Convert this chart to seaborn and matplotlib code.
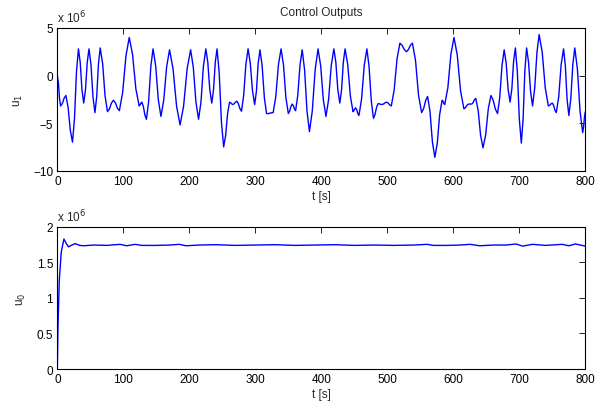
import matplotlib
matplotlib.use("Agg")
import matplotlib.pyplot as plt
import seaborn as sns

# u_1 (x 1e6): peaks and troughs
t1 = [0, 5, 13, 23, 32, 40, 48, 57, 65, 76, 85, 94, 109, 124, 128, 135, 145, 157, 170, 186,
      202, 214, 225, 234, 242, 252, 261, 266, 272, 279, 289, 299, 307, 317, 327, 339, 350, 356,
      361, 371, 382, 395, 407, 419, 428, 436, 448, 452, 457, 469, 479, 486, 492, 499, 506, 519,
      529, 538, 552, 561, 572, 583, 587, 601, 616, 623, 628, 634, 645, 657, 667, 677, 686, 694,
      703, 711, 720, 730, 744, 750, 756, 767, 775, 784, 796, 800]
u1 = [0, -3.2, -2.1, -7.0, 2.8, -2.9, 2.8, -3.9, 2.9, -3.8, -2.6, -3.7, 4.0, -3.2, -2.8, -4.6,
      2.8, -4.3, 2.7, -5.2, 2.7, -4.6, 2.8, -2.9, 2.8, -7.5, -2.8, -3.05, -2.7, -3.75, 2.8,
      -3.05, 2.7, -4.0, -3.9, 2.8, -4.0, -3.0, -3.7, 2.7, -5.9, 2.8, -4.3, 2.8, -2.9, 2.8, -3.8,
      -3.4, -4.2, 2.8, -4.5, -2.95, -3.05, -2.8, -3.2, 3.4, 2.5, 3.4, -3.9, -2.2, -8.6, -2.6,
      -3.05, 4.0, -3.5, -3.0, -3.0, -2.4, -7.6, -2.1, -4.0, 2.7, -2.8, 2.9, -7.1, 2.9, -3.2,
      4.3, -3.2, -2.9, -3.9, 2.8, -4.2, 2.9, -6.0, -3.8]

# u_1 points on the flanks between the peaks
t1_mid = [1.7, 3.3, 7.7, 10.3, 16.3, 19.7, 26, 29, 34.7, 37.3,
          42.7, 45.3, 51, 54, 59.7, 62.3, 68.7, 72.3, 79, 82,
          88, 91, 99, 104, 114, 119, 125.3, 126.7, 130.3, 132.7,
          138.3, 141.7, 149, 153, 161.3, 165.7, 175.3, 180.7, 191.3, 196.7,
          206, 210, 217.7, 221.3, 228, 231, 236.7, 239.3, 245.3, 248.7,
          255, 258, 262.7, 264.3, 268, 270, 274.3, 276.7, 282.3, 285.7,
          292.3, 295.7, 301.7, 304.3, 310.3, 313.7, 320.3, 323.7, 331, 335,
          342.7, 346.3, 352, 354, 357.7, 359.3, 364.3, 367.7, 374.7, 378.3,
          386.3, 390.7, 399, 403, 411, 415, 422, 425, 430.7, 433.3,
          440, 444, 449.3, 450.7, 453.7, 455.3, 461, 465, 472.3, 475.7,
          481.3, 483.7, 488, 490, 494.3, 496.7, 501.3, 503.7, 510.3, 514.7,
          522.3, 525.7, 532, 535, 542.7, 547.3, 555, 558, 564.7, 568.3,
          575.7, 579.3, 584.3, 585.7, 591.7, 596.3, 606, 611, 618.3, 620.7,
          630, 632, 637.7, 641.3, 649, 653, 660.3, 663.7, 670.3, 673.7,
          680, 683, 688.7, 691.3, 697, 700, 705.7, 708.3, 714, 717,
          723.3, 726.7, 734.7, 739.3, 746, 748, 752, 754, 759.7, 763.3,
          769.7, 772.3, 778, 781, 788, 792, 797.3, 798.7]
u1_mid = [-0.8, -2.4, -2.93, -2.38, -3.33, -5.78, -4.55, 0.35, 1.38, -1.48,
          -1.48, 1.38, 1.13, -2.23, -2.2, 1.2, 1.23, -2.13, -3.5, -2.9,
          -2.88, -3.43, -1.78, 2.08, 2.2, -1.4, -3.1, -2.9, -3.25, -4.15,
          -2.75, 0.95, 1.03, -2.53, -2.55, 0.95, 0.73, -3.23, -3.23, 0.73,
          0.88, -2.78, -2.75, 0.95, 1.38, -1.48, -1.48, 1.38, 0.23, -4.93,
          -6.33, -3.98, -2.86, -2.99, -2.96, -2.79, -2.96, -3.49, -2.11, 1.16,
          1.34, -1.59, -1.61, 1.26, 1.03, -2.33, -4.0, -3.92, -2.23, 1.13,
          1.1, -2.3, -3.75, -3.25, -3.18, -3.53, -2.1, 1.1, 0.55, -3.75,
          -3.73, 0.63, 1.03, -2.53, -2.53, 1.03, 1.38, -1.48, -1.48, 1.38,
          1.15, -2.15, -3.7, -3.5, -3.6, -4.0, -2.45, 1.05, 0.98, -2.68,
          -4.11, -3.34, -2.98, -3.03, -2.99, -2.86, -2.9, -3.1, -1.55, 1.75,
          3.18, 2.73, 2.73, 3.18, 1.58, -2.08, -3.48, -2.63, -3.8, -7.0,
          -7.1, -4.1, -2.71, -2.94, -1.29, 2.24, 2.13, -1.63, -3.38, -3.13,
          -2.85, -2.55, -3.7, -6.3, -6.23, -3.48, -2.58, -3.53, -2.33, 1.03,
          1.33, -1.43, -1.38, 1.48, 0.4, -4.6, -4.6, 0.4, 1.38, -1.68,
          -1.33, 2.43, 2.43, -1.33, -3.13, -2.98, -3.15, -3.65, -2.23, 1.13,
          1.05, -2.45, -2.43, 1.13, 0.68, -3.78, -5.45, -4.35]

# u_0 (x 1e6)
t0 = [0, 1, 3, 6, 10, 14, 17, 21, 27, 34, 40, 55, 75, 95, 105, 118, 128, 150, 170, 185,
      195, 215, 240, 270, 300, 330, 360, 390, 420, 450, 480, 510, 540, 560, 570, 590, 610,
      625, 640, 660, 680, 695, 705, 720, 740, 765, 775, 785, 800]
u0 = [0, 0.6, 1.25, 1.65, 1.83, 1.76, 1.72, 1.74, 1.765, 1.74, 1.735, 1.745, 1.74, 1.755,
      1.735, 1.755, 1.74, 1.74, 1.745, 1.755, 1.735, 1.745, 1.75, 1.74, 1.745, 1.75, 1.74,
      1.745, 1.75, 1.74, 1.745, 1.74, 1.745, 1.755, 1.74, 1.74, 1.745, 1.755, 1.735, 1.745,
      1.745, 1.76, 1.73, 1.755, 1.74, 1.755, 1.735, 1.76, 1.73]

sns.set_style("white")
plt.rcParams['font.family'] = ['Liberation Sans', 'DejaVu Sans']
plt.rcParams['font.size'] = 8.5
plt.rcParams['xtick.direction'] = 'in'
plt.rcParams['ytick.direction'] = 'in'

fig = plt.figure(figsize=(6.04, 4.02), dpi=100)
ax1 = fig.add_axes([0.0949, 0.573, 0.8742, 0.355])
ax2 = fig.add_axes([0.0949, 0.0796, 0.8742, 0.3534])

# lineplot sorts by t, so the peaks and the flank points merge into one curve
sns.lineplot(x=t1 + t1_mid, y=u1 + u1_mid, ax=ax1, color='#0000ff', linewidth=1, estimator=None)
sns.lineplot(x=t0, y=u0, ax=ax2, color='#0000ff', linewidth=1, estimator=None)

def matlab_axes(ax, ylim, yticks, ylabel):
    ax.set_xlim(0, 800)
    ax.set_ylim(*ylim)
    ax.set_xticks(range(0, 801, 100))
    ax.set_yticks(yticks)
    ax.tick_params(top=True, right=True, length=4, width=0.6, colors='black', labelsize=8.5, pad=3)
    for s in ax.spines.values():
        s.set_color('black')
        s.set_linewidth(0.8)
    ax.set_xlabel('t [s]', fontsize=8.5, labelpad=2)
    ax.set_ylabel(ylabel, fontsize=8.5, labelpad=6)
    ax.text(0, 1.02, r'x 10$^{6}$', transform=ax.transAxes, fontsize=8.5, ha='left', va='bottom')

matlab_axes(ax1, (-10, 5), [-10, -5, 0, 5], r'u$_1$')
matlab_axes(ax2, (0, 2), [0, 0.5, 1, 1.5, 2], r'u$_0$')
ax2.set_yticklabels(['0', '0.5', '1', '1.5', '2'])
ax1.set_title('Control Outputs', fontsize=8.5, pad=9)

fig.savefig('out.png', dpi=100)
